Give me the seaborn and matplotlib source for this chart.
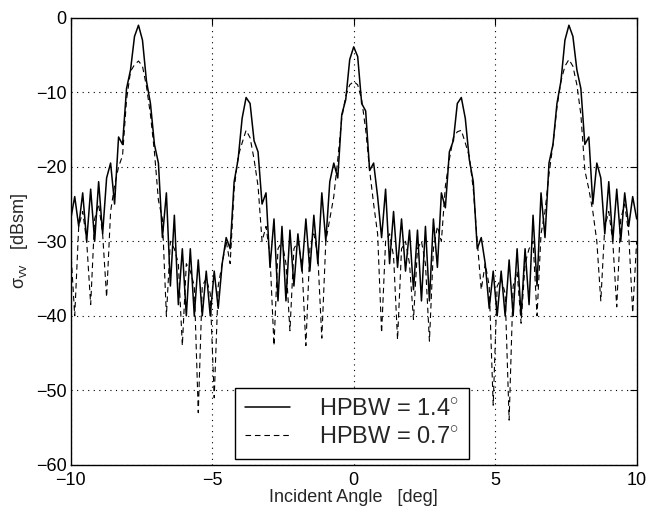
import numpy as np
import pandas as pd
import matplotlib
matplotlib.use("Agg")
import matplotlib.pyplot as plt
import seaborn as sns

hpbw_14 = [
    -27, -24, -28, -23.5, -30, -23, -30, -22, -29, -21.5,
    -19.5, -25, -16, -17, -9.5, -7, -2.5, -1, -3, -8.5,
    -11.5, -17, -19.5, -29.5, -23.5, -36, -26.5, -38.5, -31, -40,
    -31, -40, -32.5, -40, -34, -40, -34, -39, -33, -29.5,
    -31, -22, -19, -13.5, -10.7, -11.5, -16.5, -18, -25, -23.5,
    -33.5, -27, -38, -28, -38, -28.5, -36, -29, -34, -27,
    -34, -26.5, -33, -23.5, -30, -22, -19.5, -21.5, -13, -11,
    -5.6, -3.9, -5.2, -11.5, -12.5, -20.5, -19.5, -24, -29.5, -23,
    -33, -26, -33.5, -27, -34, -28.5, -36.5, -28.5, -38, -28,
    -38, -27, -33.5, -23.5, -25.5, -18, -16.5, -11.5, -10.7, -13.5,
    -19, -22, -31, -29.5, -33, -39, -34, -40, -34, -40,
    -32.5, -40, -31, -40, -31, -38.5, -26.5, -36, -23.5, -29.5,
    -19.5, -17, -11.5, -8.5, -3, -1, -2.5, -7, -9.5, -17,
    -16, -25, -19.5, -21.5, -29, -22, -30, -23, -30, -23.5,
    -28, -24, -27,
]

hpbw_07 = [
    -31, -40, -28, -26, -30, -38.5, -27, -25, -29, -37.5,
    -26, -22.5, -20, -18.5, -11, -7.2, -6.3, -5.8, -6.5, -9.2,
    -13, -18, -24.5, -27, -40, -30, -31, -33, -44, -33,
    -34, -36, -53, -36, -35, -37, -51, -36, -33, -30,
    -33, -23, -18.6, -16.8, -15.1, -16.1, -19, -22.6, -30, -28,
    -32, -44, -31, -30, -33, -42, -31, -30, -33, -44,
    -31, -29, -32, -43, -30, -27, -24, -19, -13.5, -10.5,
    -9, -8.55, -9, -11, -15, -20.5, -25, -29, -42.3, -30,
    -29, -32, -43.2, -31, -30, -33, -40.5, -31, -30, -33,
    -43.4, -31, -28, -30, -22.6, -19, -16.1, -15.3, -15.1, -16.8,
    -18.6, -23, -30, -36.5, -33, -36, -52, -36, -35, -37,
    -54, -36, -34, -41, -33, -31, -30, -40, -29, -26,
    -21, -17, -12, -8.5, -6.5, -5.6, -6.5, -9, -13, -20.5,
    -23, -26, -30, -38, -28, -26, -30, -38.8, -27, -25,
    -29, -39.6, -30,
]

angle = np.linspace(-10, 10, len(hpbw_14))
labels = ["HPBW = 1.4$^{\\circ}$", "HPBW = 0.7$^{\\circ}$"]

df = pd.DataFrame({"angle": angle, "solid": hpbw_14, "dashed": hpbw_07})

sns.set_style("white")
plt.rcParams["font.family"] = ["Liberation Sans", "DejaVu Sans"]
plt.rcParams["mathtext.fontset"] = "custom"
plt.rcParams["mathtext.rm"] = "Liberation Sans"
plt.rcParams["mathtext.it"] = "Liberation Sans"

fig, ax = plt.subplots(figsize=(6.49, 5.08), dpi=100)
fig.subplots_adjust(left=0.109, right=0.981, top=0.965, bottom=0.085)

sns.lineplot(data=df, x="angle", y="solid", ax=ax, color="black", lw=1.1, label=labels[0])
sns.lineplot(data=df, x="angle", y="dashed", ax=ax, color="black", lw=0.8,
             dashes=False, label=labels[1])
ax.lines[1].set_linestyle((0, (5, 3.5)))

ax.set_xlim(-10, 10)
ax.set_ylim(-60, 0)
ax.set_xticks([-10, -5, 0, 5, 10])
ax.set_yticks(np.arange(-60, 1, 10))
ax.grid(True, color="black", linestyle=(0, (1, 4)), lw=0.8)
ax.tick_params(direction="in", length=5, labelsize=13, top=True, right=True,
               colors="black")
ax.tick_params(axis="x", pad=5)
ax.tick_params(axis="y", pad=3)
for s in ax.spines.values():
    s.set_color("black")
    s.set_linewidth(1.0)

ax.set_xlabel("Incident Angle   [deg]", fontsize=13, labelpad=0)
ax.set_ylabel("$\\sigma_{\\mathrm{vv}}$   [dBsm]", fontsize=13, labelpad=4)

leg = ax.legend(loc="lower left", bbox_to_anchor=(0.29, 0.013), fontsize=17,
                frameon=True, fancybox=False, edgecolor="black", framealpha=1,
                handlelength=1.9, handletextpad=1.2, borderpad=0.45,
                labelspacing=0.25, borderaxespad=0)
leg.get_frame().set_linewidth(1.0)

plt.savefig("out.png", dpi=100)
